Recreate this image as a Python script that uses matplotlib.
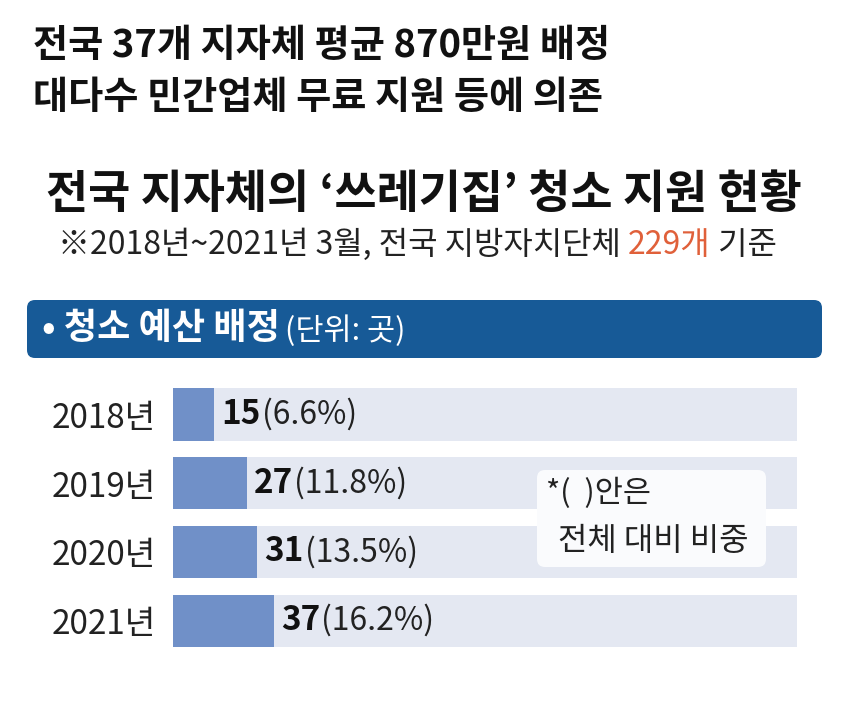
import matplotlib
matplotlib.use('Agg')
import matplotlib.pyplot as plt
from matplotlib.patches import FancyBboxPatch

plt.rcParams['font.family'] = ['Noto Sans CJK KR', 'DejaVu Sans']

# 데이터
years = ['2018년', '2019년', '2020년', '2021년']
counts = [15, 27, 31, 37]
shares = ['6.6%', '11.8%', '13.5%', '16.2%']
total = 229

BLUE = '#7090c8'
BG = '#e4e8f2'
HEADER = '#175a97'
ORANGE = '#e0603a'

fig = plt.figure(figsize=(8.5, 7.03), dpi=100)
fig.patch.set_facecolor('white')

# --- 막대 영역 ---
ax = fig.add_axes([173 / 850, 1 - 655 / 703, 624 / 850, 275 / 703])
ypos = list(range(len(years)))
ax.barh(ypos, [total] * len(years), height=0.76, color=BG, zorder=1)
ax.barh(ypos, counts, height=0.76, color=BLUE, zorder=2)
ax.set_xlim(0, total)
ax.set_ylim(len(years) - 0.5, -0.5)
ax.set_yticks(ypos)
ax.set_yticklabels(years, fontsize=24, color='#222222')
ax.tick_params(axis='y', length=0, pad=12)
ax.set_xticks([])
for s in ax.spines.values():
    s.set_visible(False)

for y, c, p in zip(ypos, counts, shares):
    t = ax.annotate(str(c), xy=(c, y), xytext=(5, 0), textcoords='offset points',
                    ha='left', va='center', fontsize=24, fontweight='bold', color='#111111', zorder=3)
    ax.annotate('(' + p + ')', xy=(1, 0), xycoords=t, xytext=(1, 0), textcoords='offset points',
                ha='left', va='bottom', fontsize=23, color='#222222', zorder=3)

# --- 오버레이 (픽셀 좌표) ---
ov = fig.add_axes([0, 0, 1, 1], zorder=5)
ov.set_xlim(0, 850)
ov.set_ylim(703, 0)
ov.axis('off')
ov.patch.set_alpha(0)

ov.text(33, 45, '전국 37개 지자체 평균 870만원 배정', fontsize=27.5, fontweight='bold',
        ha='left', va='center', color='#111111')
ov.text(33, 97, '대다수 민간업체 무료 지원 등에 의존', fontsize=27.5, fontweight='bold',
        ha='left', va='center', color='#111111')

ov.text(424, 195, "전국 지자체의 ‘쓰레기집’ 청소 지원 현황", fontsize=33, fontweight='bold',
        ha='center', va='center', color='#111111')

t1 = ov.text(58, 245, '※2018년~2021년 3월, 전국 지방자치단체 ', fontsize=23,
             ha='left', va='center', color='#222222')
t2 = ov.annotate('229개', xy=(1, 0), xycoords=t1, xytext=(0, 0), textcoords='offset points',
                 ha='left', va='bottom', fontsize=23, color=ORANGE)
ov.annotate(' 기준', xy=(1, 0), xycoords=t2, xytext=(0, 0), textcoords='offset points',
            ha='left', va='bottom', fontsize=23, color='#222222')

# 헤더 바
ov.add_patch(FancyBboxPatch((27, 300), 795, 58, boxstyle='round,pad=0,rounding_size=8',
                            facecolor=HEADER, edgecolor='none'))
h1 = ov.text(42, 329, '• 청소 예산 배정', fontsize=26, fontweight='bold',
             ha='left', va='center', color='white')
ov.annotate('(단위: 곳)', xy=(1, 0), xycoords=h1, xytext=(4, 0), textcoords='offset points',
            ha='left', va='bottom', fontsize=22, color='white')

# 주석 박스
ov.add_patch(FancyBboxPatch((537, 470), 229, 97, boxstyle='round,pad=0,rounding_size=8',
                            facecolor='#fafbfd', edgecolor='none'))
ov.text(546, 493, '*(  )안은', fontsize=22, ha='left', va='center', color='#222222')
ov.text(558, 541, '전체 대비 비중', fontsize=23, ha='left', va='center', color='#222222')

fig.savefig('out.png', dpi=100, facecolor='white')
